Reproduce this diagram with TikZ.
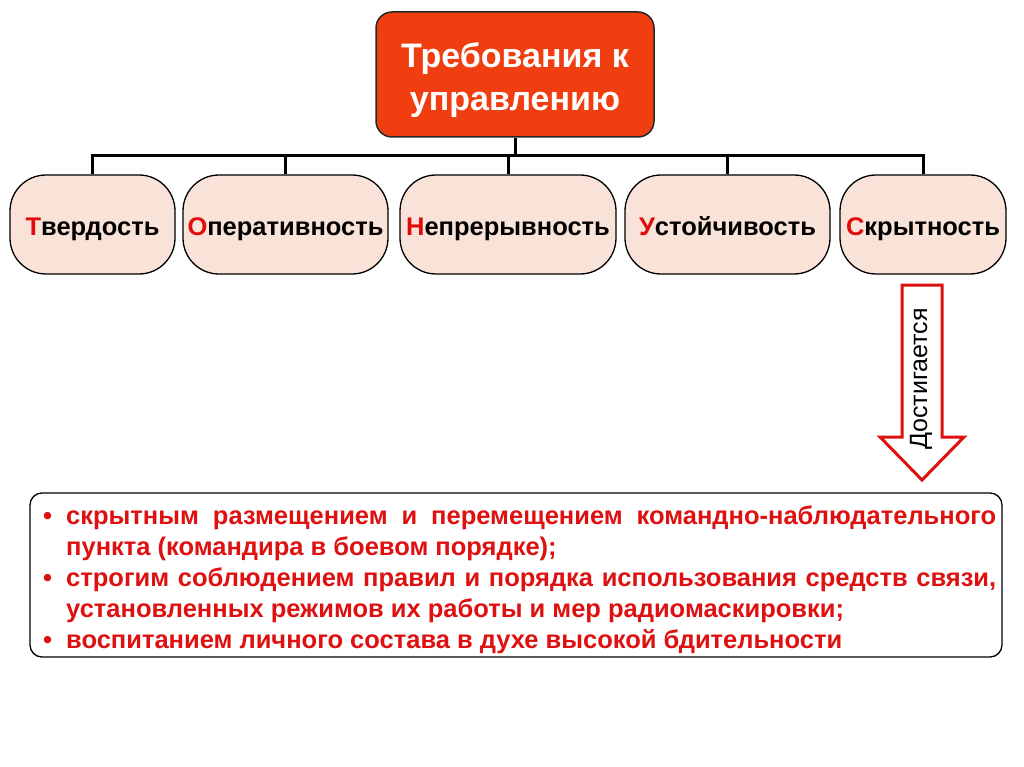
\documentclass[tikz,border=0pt]{standalone}
\usepackage{fontspec}
\setmainfont{Liberation Sans}
\usepackage{xcolor}
\usepackage{tikz}
\definecolor{headred}{RGB}{240,62,16}
\definecolor{boxpink}{RGB}{249,226,216}
\definecolor{letterred}{RGB}{226,10,10}
\definecolor{listred}{RGB}{222,16,16}
\tikzset{
  head/.style={draw=black!85, line width=1.5pt, fill=headred, rounded corners=16pt,
    text=white, font=\fontsize{34}{43}\selectfont\bfseries, align=center,
    minimum width=278pt, minimum height=125pt},
  req/.style={draw=black, line width=1.3pt, fill=boxpink, rounded corners=36pt,
    font=\fontsize{25.5}{28}\selectfont\bfseries, minimum height=99pt, inner sep=0pt,
    text height=22pt, text depth=0pt},
  conn/.style={line width=3pt, draw=black},
  achieve/.style={draw=listred, line width=3pt, fill=white, line join=miter},
}
\newcommand{\firstred}[1]{\textcolor{letterred}{#1}}

\begin{document}
\begin{tikzpicture}[x=1pt, y=-1pt]
  \useasboundingbox[fill=white] (0,0) rectangle (1024,767);

  \node[head] at (515, 74.5) (top) {\rule{0pt}{37pt}Требования к\\управлению};

  \node[req, minimum width=165pt] at (92.5, 224.5)  (tverd) {\firstred{Т}вердость};
  \node[req, minimum width=205pt] at (285.5, 224.5) (oper)  {\firstred{О}перативность};
  \node[req, minimum width=216pt] at (508, 224.5)   (nepr)  {\firstred{Н}епрерывность};
  \node[req, minimum width=205pt] at (727.5, 224.5) (ustoi) {\firstred{У}стойчивость};
  \node[req, minimum width=166pt] at (923, 224.5)   (skryt) {\firstred{С}крытность};

  \coordinate (bus) at (515, 156);
  \draw[conn] (top.south) -- (bus);
  \draw[conn] (tverd.north) |- (bus);
  \draw[conn] (oper.north)  |- (bus);
  \draw[conn] (nepr.north)  |- (bus);
  \draw[conn] (ustoi.north) |- (bus);
  \draw[conn] (skryt.north) |- (bus);

  % block arrow under the last box
  \coordinate (tip) at (922, 480);
  \draw[achieve] (902, 285) -- (942, 285) -- (942, 437) -- (964, 437)
    -- (tip) -- (880, 437) -- (902, 437) -- cycle;
  \node[rotate=90, font=\fontsize{25}{28}\selectfont] at (921, 379) (dost) {Достигается};

  \node[draw=black, line width=1.3pt, rounded corners=12pt, fill=white,
    minimum width=972pt, minimum height=164pt] at (516, 575) (means) {};
  \node[anchor=north west, inner sep=0pt, align=left, text=listred,
    font=\fontsize{25.5}{31}\selectfont\bfseries] at (43, 506) (list) {%
    \makebox[23pt][l]{•}\makebox[930pt][s]{скрытным размещением и перемещением командно-наблюдательного}\\
    \hspace*{23pt}пункта (командира в боевом порядке);\\
    \makebox[23pt][l]{•}\makebox[930pt][s]{строгим соблюдением правил и порядка использования средств связи,}\\
    \hspace*{23pt}установленных режимов их работы и мер радиомаскировки;\\
    \makebox[23pt][l]{•}воспитанием личного состава в духе высокой бдительности};
\end{tikzpicture}
\end{document}
